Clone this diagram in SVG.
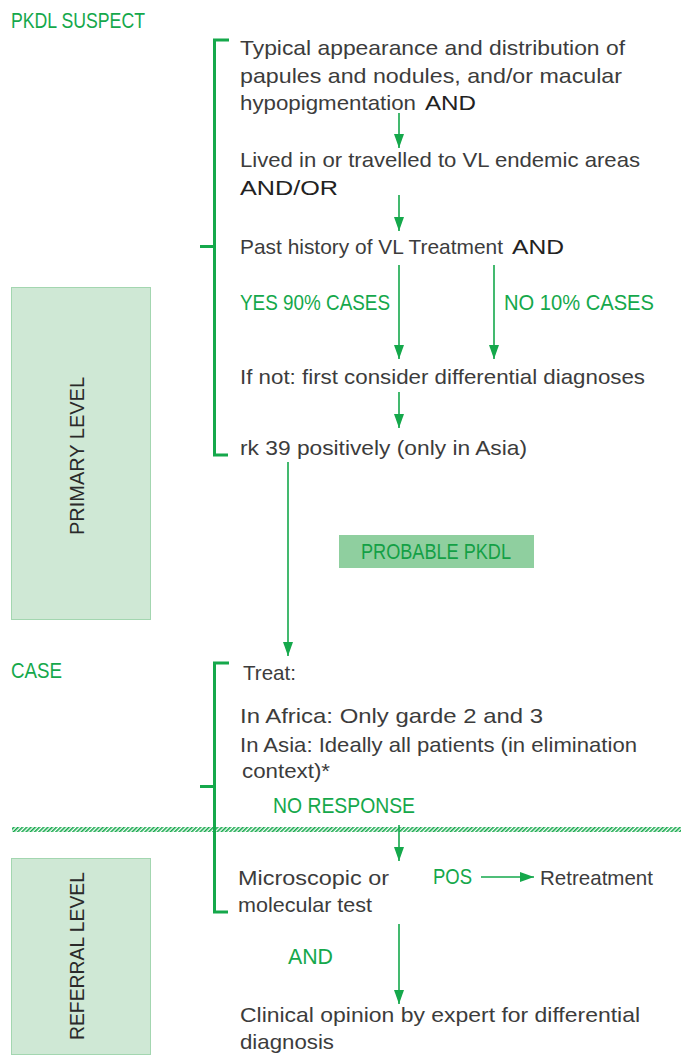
<svg xmlns="http://www.w3.org/2000/svg" width="681" height="1055" viewBox="0 0 681 1055">
<style>
.t{font-family:"Liberation Sans",Arial,sans-serif;font-size:21px;fill:#3c3c3c}
.b{font-family:"Liberation Sans",Arial,sans-serif;font-size:21px;fill:#222}
.g{font-family:"Liberation Sans",Arial,sans-serif;font-size:21.5px;fill:#15a84b}
.v{font-family:"Liberation Sans",Arial,sans-serif;font-size:21px;fill:#2a2a2a}
.ln{stroke:#15a84b;stroke-width:1.6;fill:none}
.br{stroke:#15a84b;stroke-width:3;fill:none}
</style>
<defs>
<marker id="ah" viewBox="0 0 14 10" refX="14" refY="5" markerWidth="14" markerHeight="10" markerUnits="userSpaceOnUse" orient="auto">
<path d="M0,0 L14,5 L0,10 Z" fill="#15a84b"/>
</marker>
<pattern id="hatch" width="3" height="3" patternUnits="userSpaceOnUse" patternTransform="rotate(45)">
<rect width="1.6" height="3" fill="#15a84b"/>
</pattern>
</defs>

<g id="labels">
<text class="g" x="11" y="28" textLength="134" lengthAdjust="spacingAndGlyphs">PKDL SUSPECT</text>
<text class="g" x="11" y="678" textLength="51" lengthAdjust="spacingAndGlyphs">CASE</text>
</g>

<g id="primary-level">
<rect x="11.5" y="287.5" width="139" height="332" fill="#cfe8d5" stroke="#a3d6b0" stroke-width="1"/>
<text class="v" transform="translate(84,456) rotate(-90)" text-anchor="middle" textLength="158" lengthAdjust="spacingAndGlyphs">PRIMARY LEVEL</text>
</g>

<g id="referral-level">
<rect x="11.5" y="858.5" width="139" height="196" fill="#cfe8d5" stroke="#a3d6b0" stroke-width="1"/>
<text class="v" transform="translate(84,956) rotate(-90)" text-anchor="middle" textLength="168" lengthAdjust="spacingAndGlyphs">REFERRAL LEVEL</text>
</g>

<g id="separator">
<rect x="12" y="827" width="669" height="5" fill="url(#hatch)"/>
</g>

<g id="bracket-suspect">
<path class="br" d="M229,40 H214.5 V455 H228"/>
<path class="br" d="M200,246.5 H214.5"/>
</g>

<g id="bracket-case">
<path class="br" d="M229,663 H214.5 V912 H228"/>
<path class="br" d="M200,786.5 H214.5"/>
</g>

<g id="node-appearance">
<text class="t" x="240" y="55" textLength="385" lengthAdjust="spacingAndGlyphs">Typical appearance and distribution of</text>
<text class="t" x="240" y="83" textLength="382" lengthAdjust="spacingAndGlyphs">papules and nodules, and/or macular</text>
<text class="t" x="240" y="110" textLength="176" lengthAdjust="spacingAndGlyphs">hypopigmentation</text>
<text class="b" x="425" y="110" textLength="51" lengthAdjust="spacingAndGlyphs">AND</text>
</g>

<g id="node-endemic">
<text class="t" x="240" y="167" textLength="400" lengthAdjust="spacingAndGlyphs">Lived in or travelled to VL endemic areas</text>
<text class="b" x="240" y="195" textLength="98" lengthAdjust="spacingAndGlyphs">AND/OR</text>
</g>

<g id="node-history">
<text class="t" x="240" y="254" textLength="263" lengthAdjust="spacingAndGlyphs">Past history of VL Treatment</text>
<text class="b" x="512" y="254" textLength="52" lengthAdjust="spacingAndGlyphs">AND</text>
</g>

<g id="node-yes">
<text class="g" x="240" y="310" textLength="150" lengthAdjust="spacingAndGlyphs">YES 90% CASES</text>
</g>
<g id="node-no">
<text class="g" x="504" y="310" textLength="150" lengthAdjust="spacingAndGlyphs">NO 10% CASES</text>
</g>

<g id="node-differential">
<text class="t" x="240" y="384" textLength="405" lengthAdjust="spacingAndGlyphs">If not: first consider differential diagnoses</text>
</g>

<g id="node-rk39">
<text class="t" x="240" y="455" textLength="287" lengthAdjust="spacingAndGlyphs">rk 39 positively (only in Asia)</text>
</g>

<g id="node-probable">
<rect x="339" y="535" width="195" height="33" fill="#8fcf9f"/>
<text class="g" x="436" y="559" text-anchor="middle" textLength="150" lengthAdjust="spacingAndGlyphs" style="fill:#14a046">PROBABLE PKDL</text>
</g>

<g id="node-treat">
<text class="t" x="243" y="680" textLength="53" lengthAdjust="spacingAndGlyphs">Treat:</text>
<text class="t" x="240" y="723" textLength="303" lengthAdjust="spacingAndGlyphs">In Africa: Only garde 2 and 3</text>
<text class="t" x="240" y="752" textLength="397" lengthAdjust="spacingAndGlyphs">In Asia: Ideally all patients (in elimination</text>
<text class="t" x="242" y="778" textLength="88" lengthAdjust="spacingAndGlyphs">context)*</text>
</g>

<g id="node-noresponse">
<text class="g" x="273" y="813" textLength="142" lengthAdjust="spacingAndGlyphs">NO RESPONSE</text>
</g>

<g id="node-test">
<text class="t" x="238" y="885" textLength="151" lengthAdjust="spacingAndGlyphs">Microscopic or</text>
<text class="t" x="238" y="912" textLength="134" lengthAdjust="spacingAndGlyphs">molecular test</text>
</g>

<g id="node-pos">
<text class="g" x="433" y="884" textLength="39" lengthAdjust="spacingAndGlyphs">POS</text>
</g>

<g id="node-retreatment">
<text class="t" x="540" y="885" textLength="113" lengthAdjust="spacingAndGlyphs">Retreatment</text>
</g>

<g id="node-and">
<text class="g" x="288" y="964" textLength="45" lengthAdjust="spacingAndGlyphs">AND</text>
</g>

<g id="node-clinical">
<text class="t" x="240" y="1022" textLength="400" lengthAdjust="spacingAndGlyphs">Clinical opinion by expert for differential</text>
<text class="t" x="240" y="1049" textLength="94" lengthAdjust="spacingAndGlyphs">diagnosis</text>
</g>

<g id="connectors">
<line class="ln" x1="399" y1="113" x2="399" y2="148" marker-end="url(#ah)"/>
<line class="ln" x1="399" y1="195" x2="399" y2="231" marker-end="url(#ah)"/>
<line class="ln" x1="399" y1="265" x2="399" y2="359" marker-end="url(#ah)"/>
<line class="ln" x1="494" y1="265" x2="494" y2="359" marker-end="url(#ah)"/>
<line class="ln" x1="399" y1="392" x2="399" y2="428" marker-end="url(#ah)"/>
<line class="ln" x1="288" y1="462" x2="288" y2="656" marker-end="url(#ah)"/>
<line class="ln" x1="399" y1="825" x2="399" y2="861" marker-end="url(#ah)"/>
<line class="ln" x1="481" y1="877" x2="534" y2="877" marker-end="url(#ah)"/>
<line class="ln" x1="399" y1="924" x2="399" y2="1004" marker-end="url(#ah)"/>
</g>
</svg>
